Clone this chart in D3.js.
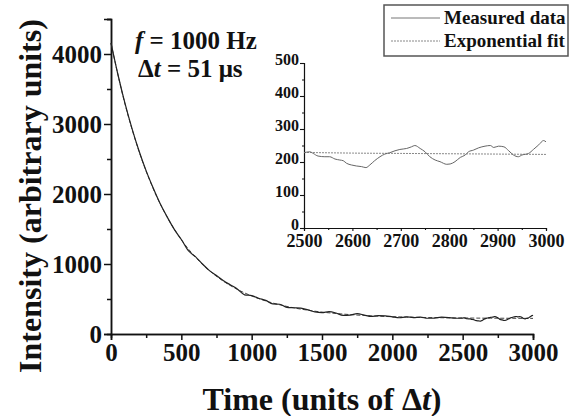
<!DOCTYPE html>
<html>
<head>
<meta charset="utf-8">
<script src="https://cdn.jsdelivr.net/npm/d3@7"></script>
<style>
  body { margin: 0; background: #fff; }
  svg text { font-family: "Liberation Serif", "Times New Roman", Times, serif !important; font-weight: bold; }
</style>
</head>
<body>
<div class="canvas"></div>
<script>
// measured intensity, every 50 units of dt from 0 to 2450
const measuredTime = d3.range(0, 2500, 50);
const measuredValue = [
    4160, 3700, 3290, 2930, 2610, 2330, 2085, 1860, 1670, 1495,
    1350, 1190, 1105, 1000, 905, 835, 760, 700, 640, 560,
    548, 510, 480, 430, 425, 380, 375, 370, 345, 315,
    305, 320, 300, 265, 270, 290, 270, 250, 262, 260,
    245, 232, 245, 235, 240, 225, 228, 240, 235, 225
];

// measured tail (2500 - 3000)
const tailTime = [2500, 2512, 2519, 2529, 2543, 2553, 2564, 2574, 2581, 2588,
    2598, 2608, 2619, 2628, 2636, 2646, 2657, 2667, 2677, 2688,
    2698, 2712, 2722, 2729, 2740, 2750, 2760, 2771, 2781, 2795,
    2802, 2812, 2823, 2833, 2840, 2850, 2861, 2874, 2885, 2892,
    2902, 2913, 2923, 2933, 2943, 2950, 2964, 2974, 2985, 2995, 3000];
const tailValue = [228, 231, 226, 218, 216, 216, 209, 206, 204, 196,
    191, 188, 186, 183, 191, 204, 216, 224, 228, 234,
    238, 241, 246, 250, 241, 231, 216, 206, 201, 193,
    194, 201, 214, 221, 231, 236, 243, 248, 250, 244,
    248, 246, 234, 221, 216, 221, 226, 238, 252, 265, 261];

// exponential fit, every 100 units
const fitTime = d3.range(0, 3001, 100);
const fitValue = [4151, 3282, 2605, 2077, 1667, 1347, 1098, 904, 753, 635,
    544, 472, 417, 373, 340, 313, 293, 277, 265, 255,
    247, 242, 237, 234, 231, 229, 227, 226, 225, 224, 223];

const xTicks = [0, 500, 1000, 1500, 2000, 2500, 3000];
const yTicks = [0, 1000, 2000, 3000, 4000];
const insetXTicks = [2500, 2600, 2700, 2800, 2900, 3000];
const insetYTicks = [0, 100, 200, 300, 400, 500];
const legendLabels = ['Measured data', 'Exponential fit'];

const measured = measuredTime.map((t, i) => ({t, v: measuredValue[i]}))
    .concat(tailTime.map((t, i) => ({t, v: tailValue[i]})));
const fit = fitTime.map((t, i) => ({t, v: fitValue[i]}));
const tail = tailTime.map((t, i) => ({t, v: tailValue[i]}));
const tailFit = fit.filter(d => d.t >= 2500);

const svg = d3.select('.canvas')
    .append('svg')
    .attr('width', 576)
    .attr('height', 416);

// main plot
const x = d3.scaleLinear().domain([0, 3000]).range([111, 533]);
const y = d3.scaleLinear().domain([0, 4500]).range([334, 19]);

const drawAxis = (g, axis, fontSize, width) => {
    g.call(axis);
    g.select('.domain').attr('stroke', '#111').attr('stroke-width', width);
    g.selectAll('.tick line').attr('stroke', '#111').attr('stroke-width', width);
    g.selectAll('text')
        .attr('font-size', fontSize)
        .attr('fill', '#111');
};

svg.append('g')
    .attr('transform', 'translate(0,334)')
    .call(g => drawAxis(g, d3.axisBottom(x).tickValues(d3.range(250, 3000, 500)).tickSize(4).tickFormat(''), 25, 1.5));
svg.append('g')
    .attr('transform', 'translate(0,334)')
    .call(g => drawAxis(g, d3.axisBottom(x).tickValues(xTicks).tickSize(6).tickPadding(3).tickFormat(d3.format('d')), 25, 1.5));

svg.append('g')
    .attr('transform', 'translate(111,0)')
    .call(g => drawAxis(g, d3.axisLeft(y).tickValues(d3.range(500, 4501, 1000)).tickSize(4).tickFormat(''), 25, 1.5));
svg.append('g')
    .attr('transform', 'translate(111,0)')
    .call(g => drawAxis(g, d3.axisLeft(y).tickValues(yTicks).tickSize(7).tickPadding(2).tickFormat(d3.format('d')), 25, 1.5));

const line = d3.line()
    .x(d => x(d.t))
    .y(d => y(d.v))
    .curve(d3.curveMonotoneX);

svg.append('path')
    .datum(fit)
    .attr('d', line)
    .attr('fill', 'none')
    .attr('stroke', '#444')
    .attr('stroke-width', 1)
    .attr('stroke-dasharray', '4,2');

svg.append('path')
    .datum(measured)
    .attr('d', line)
    .attr('fill', 'none')
    .attr('stroke', '#222')
    .attr('stroke-width', 1.2);

// axis titles
svg.append('text')
    .attr('x', 322)
    .attr('y', 410)
    .attr('text-anchor', 'middle')
    .attr('font-size', 32)
    .attr('fill', '#111')
    .html('Time (units of Δ<tspan font-style="italic">t</tspan>)');

svg.append('text')
    .attr('transform', 'translate(41,196) rotate(-90)')
    .attr('text-anchor', 'middle')
    .attr('font-size', 32)
    .attr('fill', '#111')
    .text('Intensity (arbitrary units)');

// annotation
svg.append('text')
    .attr('x', 135)
    .attr('y', 49)
    .attr('font-size', 25)
    .attr('fill', '#111')
    .html('<tspan font-style="italic">f</tspan> = 1000 Hz');
svg.append('text')
    .attr('x', 138)
    .attr('y', 77)
    .attr('font-size', 25)
    .attr('fill', '#111')
    .html('Δ<tspan font-style="italic">t</tspan> = 51 μs');

// inset
const ix = d3.scaleLinear().domain([2500, 3000]).range([304, 546]);
const iy = d3.scaleLinear().domain([0, 500]).range([228, 63]);

svg.append('g')
    .attr('transform', 'translate(0,228)')
    .call(g => drawAxis(g, d3.axisBottom(ix).tickValues(d3.range(2550, 3000, 100)).tickSize(2).tickFormat(''), 18, 1.1));
svg.append('g')
    .attr('transform', 'translate(0,228)')
    .call(g => drawAxis(g, d3.axisBottom(ix).tickValues(insetXTicks).tickSize(3).tickPadding(3).tickFormat(d3.format('d')), 18, 1.1));
svg.append('g')
    .attr('transform', 'translate(304,0)')
    .call(g => drawAxis(g, d3.axisLeft(iy).tickValues(d3.range(50, 500, 100)).tickSize(2).tickFormat(''), 16, 1.1));
svg.append('g')
    .attr('transform', 'translate(304,0)')
    .call(g => drawAxis(g, d3.axisLeft(iy).tickValues(insetYTicks).tickSize(4).tickPadding(1).tickFormat(d3.format('d')), 16, 1.1))
    .call(g => g.selectAll('text').attr('dy', '0.08em'));

const iline = d3.line()
    .x(d => ix(d.t))
    .y(d => iy(d.v))
    .curve(d3.curveMonotoneX);

svg.append('path')
    .datum(tailFit)
    .attr('d', iline)
    .attr('fill', 'none')
    .attr('stroke', '#888')
    .attr('stroke-width', 1)
    .attr('stroke-dasharray', '2,1');

svg.append('path')
    .datum(tail)
    .attr('d', iline)
    .attr('fill', 'none')
    .attr('stroke', '#666')
    .attr('stroke-width', 1);

// legend
const legend = svg.append('g');
legend.append('rect')
    .attr('x', 384)
    .attr('y', 5)
    .attr('width', 184)
    .attr('height', 51)
    .attr('fill', '#fff')
    .attr('stroke', '#555')
    .attr('stroke-width', 1.5);

legendLabels.forEach((label, i) => {
    const ly = 18 + i * 23;
    legend.append('line')
        .attr('x1', 391).attr('x2', 440)
        .attr('y1', ly).attr('y2', ly)
        .attr('stroke', i === 0 ? '#777' : '#888')
        .attr('stroke-width', 1)
        .attr('stroke-dasharray', i === 0 ? null : '2,1');
    legend.append('text')
        .attr('x', 444)
        .attr('y', ly + 6)
        .attr('font-size', 19)
        .attr('fill', '#111')
        .text(label);
});
</script>
</body>
</html>
